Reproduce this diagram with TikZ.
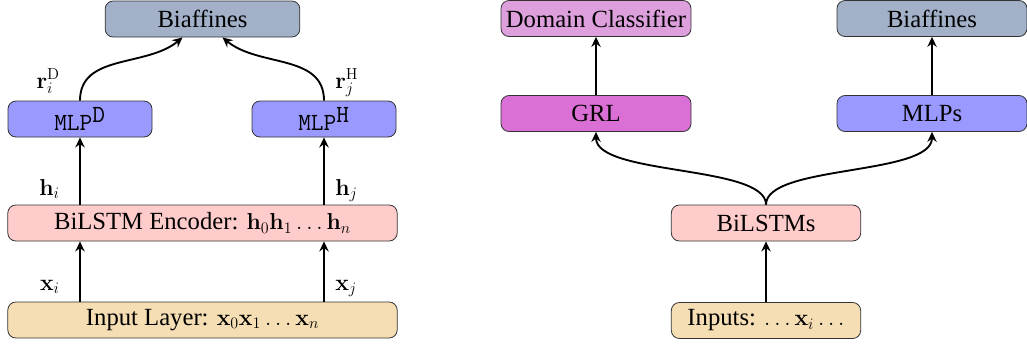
\documentclass[tikz,border=0pt]{standalone}
\usepackage[no-math]{fontspec}
\setmainfont{Liberation Serif}
\usetikzlibrary{arrows.meta,calc}
\definecolor{biafcol}{RGB}{162,176,200}
\definecolor{mlpcol}{RGB}{153,153,255}
\definecolor{lstmcol}{RGB}{255,204,204}
\definecolor{inpcol}{RGB}{245,222,179}
\definecolor{domcol}{RGB}{221,160,221}
\definecolor{grlcol}{RGB}{218,112,214}
\tikzset{
  box/.style={draw=black!80, line width=0.6pt, rounded corners=6pt,
    minimum height=27pt, inner sep=0pt, font=\fontsize{18.5}{22}\selectfont},
  arr/.style={line width=1.4pt, -{Stealth[length=7.5pt,width=7pt,inset=2.5pt]}},
  lab/.style={inner sep=0pt, font=\fontsize{18.5}{22}\selectfont},
}
\begin{document}
\begin{tikzpicture}[x=0.75pt, y=-0.75pt]
\useasboundingbox (0,0) rectangle (1027,344);

% ---- parser: single-task model ----
\node[box, fill=biafcol, minimum width=146pt] (biafL) at (202.5,19) {Biaffines};
\node[box, fill=mlpcol, minimum width=108pt] (mlpd) at (80,119) {\texttt{MLP}$^{\texttt{D}}$};
\node[box, fill=mlpcol, minimum width=108pt] (mlph) at (324,119) {\texttt{MLP}$^{\texttt{H}}$};
\node[box, fill=lstmcol, minimum width=292pt] (enc) at (202.5,223)
  {BiLSTM Encoder: $\mathbf{h}_0\mathbf{h}_1\ldots\mathbf{h}_n$};
\node[box, fill=inpcol, minimum width=292pt] (inl) at (202.5,320)
  {Input Layer: $\mathbf{x}_0\mathbf{x}_1\ldots\mathbf{x}_n$};

\coordinate (tipL) at ($(biafL.south)+(-20,0)$);
\coordinate (tipR) at ($(biafL.south)+(20,0)$);
\draw[arr] (mlpd.north) .. controls +(0,-47) and +(-36,30) .. (tipL);
\draw[arr] (mlph.north) .. controls +(0,-47) and +(36,30) .. (tipR);
\draw[arr] (enc.north -| mlpd) -- (mlpd.south);
\draw[arr] (enc.north -| mlph) -- (mlph.south);
\draw[arr] (inl.north -| mlpd) -- (enc.south -| mlpd);
\draw[arr] (inl.north -| mlph) -- (enc.south -| mlph);

\node[lab, anchor=base east] (lrd) at (60,88) {$\mathbf{r}_i^{\mathrm{D}}$};
\node[lab, anchor=base west] (lrh) at (335,88) {$\mathbf{r}_j^{\mathrm{H}}$};
\node[lab, anchor=base east] (lhi) at (60,195) {$\mathbf{h}_i$};
\node[lab, anchor=base west] (lhj) at (335,195) {$\mathbf{h}_j$};
\node[lab, anchor=base east] (lxi) at (60,290) {$\mathbf{x}_i$};
\node[lab, anchor=base west] (lxj) at (335,290) {$\mathbf{x}_j$};

% ---- adversarial model ----
\node[box, fill=domcol, minimum width=142.5pt] (dom) at (596,18.5) {Domain Classifier};
\node[box, fill=grlcol, minimum width=142.5pt] (grl) at (596,113.5) {GRL};
\node[box, fill=biafcol, minimum width=142.5pt] (biafR) at (932,18.5) {Biaffines};
\node[box, fill=mlpcol, minimum width=142.5pt] (mlps) at (932,113.5) {MLPs};
\node[box, fill=lstmcol, minimum width=142pt] (lstms) at (766,223) {BiLSTMs};
\node[box, fill=inpcol, minimum width=142pt] (inps) at (766,320.5)
  {Inputs: $\ldots\mathbf{x}_i\ldots$};

\draw[arr] (grl) -- (dom);
\draw[arr] (mlps) -- (biafR);
\draw[arr] (inps) -- (lstms);
\draw[arr] (lstms.north) .. controls +(0,-40) and +(0,44) .. (grl.south);
\draw[arr] (lstms.north) .. controls +(0,-40) and +(0,44) .. (mlps.south);
\end{tikzpicture}
\end{document}
